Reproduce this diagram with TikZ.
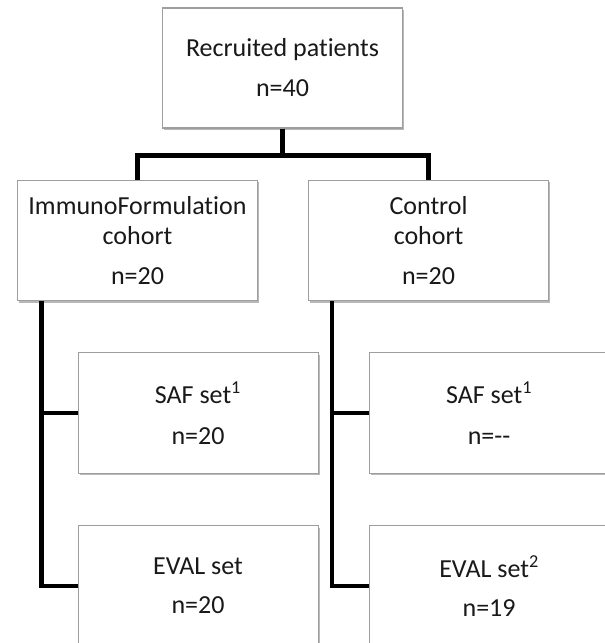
\documentclass[tikz,border=0pt]{standalone}
\usepackage{fontspec}
\setmainfont{Carlito}[Ligatures=NoCommon]
\usepackage{tikz}
\usetikzlibrary{positioning, shadows}

\begin{document}
\begin{tikzpicture}[
  x=0.75pt, y=0.75pt,
  node distance=38.25pt and 37.5pt,
  box/.style={rectangle, draw=black!38, line width=0.8pt, fill=white,
    minimum width=180pt, minimum height=90.5pt, inner sep=0pt,
    align=center, font=\fontsize{19.5}{22.5}\selectfont, text=black!90,
    drop shadow={shadow xshift=1.3pt, shadow yshift=-1.5pt, fill=black, opacity=.28}},
  link/.style={line width=3.3pt, black}
]
\useasboundingbox (0,0) rectangle (605,-643);
\clip (0,0) rectangle (605,-643);

\node (top) [box, minimum height=90pt] at (282.5,-68) {Recruited patients\\[7.5pt]n=40};

% cohorts
\node (cohL) [box, below=of top, xshift=-108.75pt] {ImmunoFormulation\\cohort\\[7pt]n=20};
\node (cohR) [box, right=of cohL] {Control\\cohort\\[7pt]n=20};

% sets
\node (safL)  [box, below=of cohL, xshift=45.4pt] {SAF set\textsuperscript{1}\\[8pt]n=20};
\node (safR)  [box, right=of safL] {SAF set\textsuperscript{1}\\[8pt]n=-{}-};
\node (evalL) [box, below=of safL] {EVAL set\\[7pt]n=20};
\node (evalR) [box, below=of safR] {EVAL set\textsuperscript{2}\\[7pt]n=19};

\draw[link] (top.south) -- ++(0,-27) -| (cohL.north);
\draw[link] (top.south) -- ++(0,-27) -| (cohR.north);

\draw[link] ([xshift=18.4pt]cohL.south west) |- (safL.west);
\draw[link] ([xshift=18.4pt]cohL.south west) |- (evalL.west);
\draw[link] ([xshift=18pt]cohR.south west) |- (safR.west);
\draw[link] ([xshift=18pt]cohR.south west) |- (evalR.west);
\end{tikzpicture}
\end{document}
